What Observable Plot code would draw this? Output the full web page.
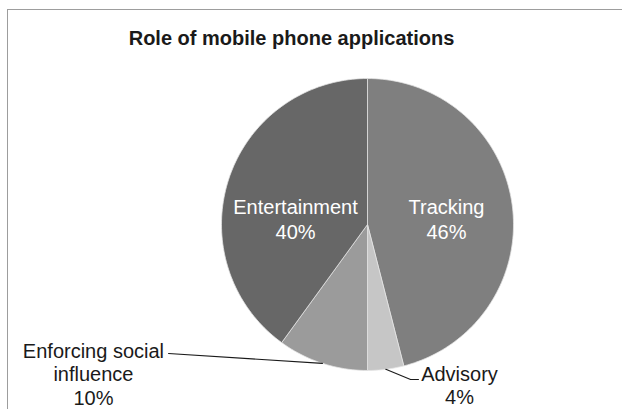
<!DOCTYPE html>
<html>
<head>
<meta charset="utf-8">
<script src="https://cdn.jsdelivr.net/npm/d3@7"></script>
<script src="https://cdn.jsdelivr.net/npm/@observablehq/plot@0.6"></script>
<style>
  html, body { margin: 0; padding: 0; background: #fff; }
  #wrap { position: relative; width: 622px; height: 409px; overflow: hidden; font-family: "Liberation Sans", Arial, sans-serif; }
  #chart { position: absolute; left: 0; top: 0; }
  #title { position: absolute; left: 0; width: 583px; top: 27px; line-height: 23px; text-align: center; font-weight: bold; font-size: 20px; color: #1a1a1a; }
  #frame { position: absolute; left: 7px; top: 9px; right: -5px; bottom: -5px; border-top: 1.5px solid #9d9d9d; border-left: 1.5px solid #9d9d9d; pointer-events: none; }
</style>
</head>
<body>
<div id="wrap">
  <div id="chart"></div>
  <div id="title">Role of mobile phone applications</div>
  <div id="frame"></div>
</div>
<script>
// ---- data ----
const categories = ["Tracking", "Advisory", "Enforcing social influence", "Entertainment"];
const shares = [46, 4, 10, 40];
const labelTexts = ["Tracking\n46%", "Advisory\n4%", "Enforcing social\ninfluence\n10%", "Entertainment\n40%"];

// ---- styles ----
const sliceColors = ["#7f7f7f", "#c6c6c6", "#9b9b9b", "#676767"];

// ---- layout (unit-circle coordinates for label placement) ----
const insideLabels = ["Tracking", "Entertainment"];
const labelAnchor = {
  "Tracking": [0.541, 0.041],
  "Entertainment": [-0.493, 0.041],
  "Enforcing social influence": [-1.877, -1.022],
  "Advisory": [0.630, -1.099]
};
const leaderBends = {
  "Enforcing social influence": [[-1.363, -0.884]],
  "Advisory": [[0.295, -1.062], [0.349, -1.062]]
};

// ---- build geometry from data ----
const total = d3.sum(shares);
const TAU = 2 * Math.PI;
const pt = (a, r = 1) => ({x: r * Math.sin(a), y: r * Math.cos(a)});
let cum = 0;
const slices = categories.map((name, i) => {
  const a0 = cum / total * TAU;
  cum += shares[i];
  const a1 = cum / total * TAU;
  return {name, a0, a1, mid: (a0 + a1) / 2, text: labelTexts[i]};
});

const wedgePts = [];
for (const s of slices) {
  const n = Math.max(4, Math.ceil((s.a1 - s.a0) / TAU * 240));
  wedgePts.push({name: s.name, x: 0, y: 0});
  for (let k = 0; k <= n; k++) {
    const a = s.a0 + (s.a1 - s.a0) * k / n;
    wedgePts.push({name: s.name, ...pt(a)});
  }
  wedgePts.push({name: s.name, x: 0, y: 0});
}

const labelRows = slices.map(s => ({name: s.name, text: s.text, x: labelAnchor[s.name][0], y: labelAnchor[s.name][1]}));

const leaderPts = [];
for (const s of slices) {
  if (!leaderBends[s.name]) continue;
  leaderPts.push({name: s.name, ...pt(s.mid)});
  for (const [x, y] of leaderBends[s.name]) leaderPts.push({name: s.name, x, y});
}

const chart = Plot.plot({
  width: 622,
  height: 409,
  marginLeft: 221,
  marginRight: 109,
  marginTop: 78,
  marginBottom: 39,
  x: {domain: [-1, 1], axis: null},
  y: {domain: [-1, 1], axis: null},
  color: {domain: categories, range: sliceColors},
  style: {fontFamily: "'Liberation Sans', Arial, sans-serif", background: "transparent", overflow: "visible"},
  marks: [
    Plot.line(wedgePts, {x: "x", y: "y", z: "name", fill: "name", stroke: "#e6e6e6", strokeWidth: 0.75, curve: "linear"}),
    Plot.line(leaderPts, {x: "x", y: "y", z: "name", stroke: "#1a1a1a", strokeWidth: 1.1, curve: "linear"}),
    Plot.text(labelRows.filter(d => insideLabels.includes(d.name)), {x: "x", y: "y", text: "text", fill: "white", fontSize: 20, lineHeight: 1.22}),
    Plot.text(labelRows.filter(d => !insideLabels.includes(d.name)), {x: "x", y: "y", text: "text", fill: "#1a1a1a", fontSize: 20, lineHeight: 1.18})
  ]
});
document.getElementById("chart").appendChild(chart);
</script>
</body>
</html>
